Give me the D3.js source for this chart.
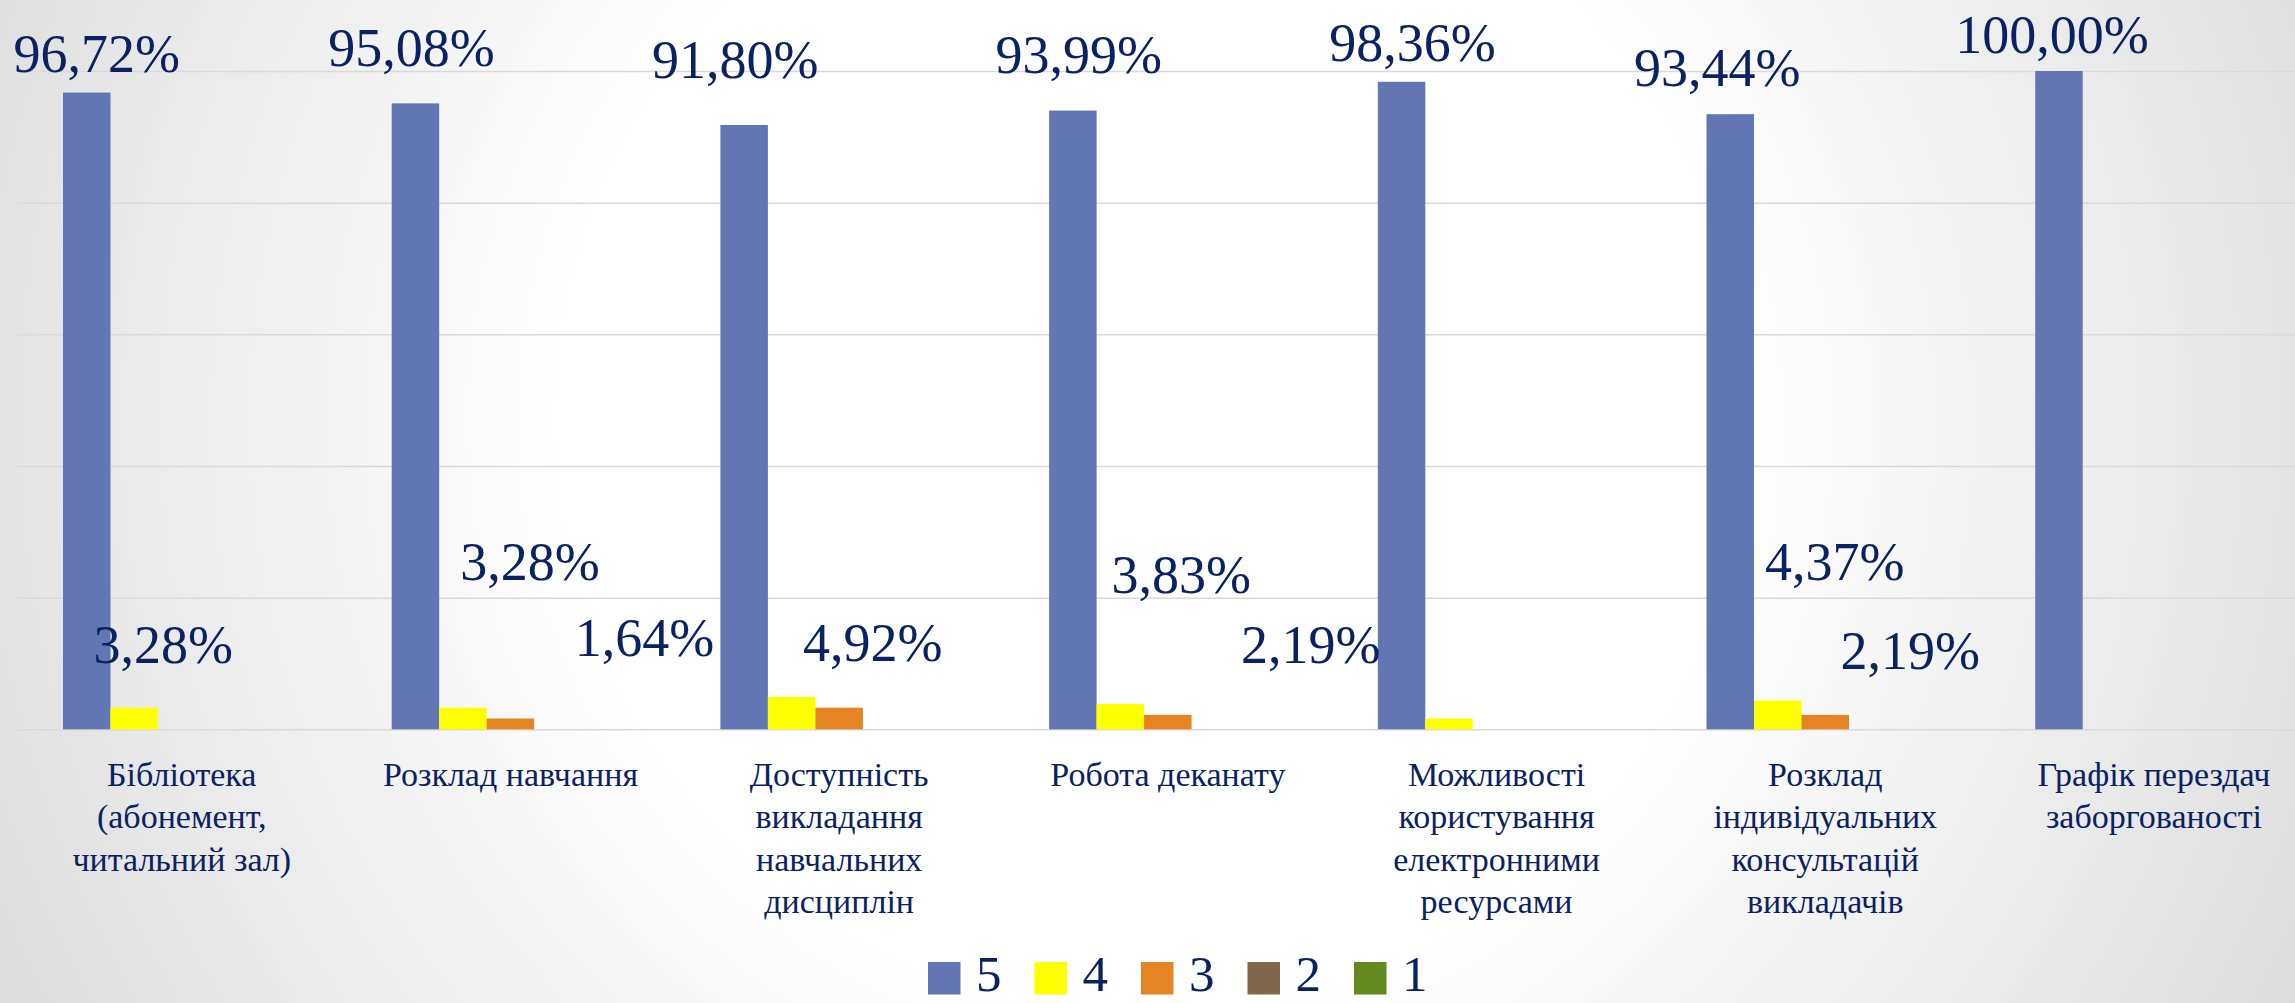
<!DOCTYPE html>
<html>
<head>
  <meta charset="utf-8">
  <script src="https://d3js.org/d3.v7.min.js"></script>
  <style>
    body {
      margin: 0;
      overflow: hidden;
    }
    svg {
      font-family: "Liberation Serif", "DejaVu Serif", serif;
      display: block;
    }
    .grid line {
      stroke: #d9d9d9;
      stroke-width: 1.5;
    }
    .grid path {
      display: none;
    }
    .label {
      fill: #0a2262;
      font-size: 54px;
    }
    .cat text {
      fill: #0a2262;
      font-size: 34px;
    }
  </style>
</head>
<body>
<div id="chart"></div>
<script>
// categories (axis tick labels, already split into lines)
var categories = [
  "Бібліотека (абонемент, читальний зал)",
  "Розклад навчання",
  "Доступність викладання навчальних дисциплін",
  "Робота деканату",
  "Можливості користування електронними ресурсами",
  "Розклад індивідуальних консультацій викладачів",
  "Графік перездач заборгованості"
];
var categoryLines = [
  ["Бібліотека", "(абонемент,", "читальний зал)"],
  ["Розклад навчання"],
  ["Доступність", "викладання", "навчальних", "дисциплін"],
  ["Робота деканату"],
  ["Можливості", "користування", "електронними", "ресурсами"],
  ["Розклад", "індивідуальних", "консультацій", "викладачів"],
  ["Графік перездач", "заборгованості"]
];

// series (rating 5..1), percent of answers
var seriesNames = ["5", "4", "3", "2", "1"];
var s5 = [96.72, 95.08, 91.80, 93.99, 98.36, 93.44, 100.00];
var s4 = [3.28, 3.28, 4.92, 3.83, 1.64, 4.37, 0];
var s3 = [0, 1.64, 3.28, 2.19, 0, 2.19, 0];
var s2 = [0, 0, 0, 0, 0, 0, 0];
var s1 = [0, 0, 0, 0, 0, 0, 0];
var seriesColors = ["#6176b3", "#ffff00", "#e68423", "#84674a", "#648921"];

var yTicks = [0, 20, 40, 60, 80, 100];

// data labels that are visible on the slide, with their hand-dragged offsets
// [series, category, dx from bar centre, distance above bar top]
var labelShift = [
  ["5", 0, 10, 21], ["5", 1, -4, 37], ["5", 2, -9, 47], ["5", 3, 6, 38],
  ["5", 4, 11, 21], ["5", 5, -13, 28], ["5", 6, -7, 18],
  ["4", 0, 29, 45], ["4", 1, 67, 128], ["4", 2, 81, 36], ["4", 3, 61, 111],
  ["4", 5, 57, 121],
  ["3", 1, 134, 63], ["3", 3, 143, 52], ["3", 5, 85, 46]
];

var values = { "5": s5, "4": s4, "3": s3, "2": s2, "1": s1 };

var width = 2295;
var height = 1003;
var left = 17.4;
var step = 328.7;

var svg = d3.select("#chart").append("svg")
  .attr("width", width)
  .attr("height", height);

/* background */
var defs = svg.append("defs");
var bg = defs.append("radialGradient")
  .attr("id", "bg")
  .attr("gradientUnits", "userSpaceOnUse")
  .attr("cx", 1150).attr("cy", 420).attr("r", 1300);
bg.append("stop").attr("offset", "0").attr("stop-color", "#ffffff");
bg.append("stop").attr("offset", "0.45").attr("stop-color", "#ffffff");
bg.append("stop").attr("offset", "1").attr("stop-color", "#dcdcdc");

svg.append("rect")
  .attr("width", width).attr("height", height)
  .attr("fill", "url(#bg)");

/* Scales */
var x0 = d3.scaleBand()
  .domain(categories)
  .range([left, left + step * categories.length])
  .paddingInner(0.2775)
  .paddingOuter(0.13875);

var x1 = d3.scaleBand()
  .domain(seriesNames)
  .range([0, x0.bandwidth()]);

var y = d3.scaleLinear()
  .domain([0, 100])
  .range([729.3, 71]);

var color = d3.scaleOrdinal(seriesNames, seriesColors);

/* gridlines */
svg.append("g")
  .attr("class", "grid")
  .attr("transform", `translate(${left}, 0)`)
  .call(d3.axisLeft(y).tickValues(yTicks).tickSize(-step * categories.length).tickFormat(""));

/* bars */
var groups = svg.append("g").selectAll("g")
  .data(categories).enter()
  .append("g")
  .attr("transform", d => `translate(${x0(d)}, 0)`);

groups.selectAll("rect")
  .data((d, i) => seriesNames.map(s => ({ key: s, value: values[s][i] })))
  .enter()
  .filter(d => d.value > 0)
  .append("rect")
  .attr("x", d => x1(d.key))
  .attr("y", d => y(d.value))
  .attr("width", x1.bandwidth())
  .attr("height", d => y(0) - y(d.value))
  .attr("fill", d => color(d.key));

/* data labels */
var fmt = v => d3.format(".2f")(v).replace(".", ",") + "%";

svg.append("g").selectAll("text")
  .data(labelShift).enter()
  .append("text")
  .attr("class", "label")
  .attr("text-anchor", "middle")
  .attr("x", d => x0(categories[d[1]]) + x1(d[0]) + x1.bandwidth() / 2 + d[2])
  .attr("y", d => y(values[d[0]][d[1]]) - d[3])
  .text(d => fmt(values[d[0]][d[1]]));

/* category axis */
var xAxis = d3.axisBottom(x0).tickSize(0).tickFormat("");
var cat = svg.append("g")
  .attr("class", "cat")
  .attr("transform", `translate(0, ${y(0)})`)
  .call(xAxis)
  .attr("font-family", null)
  .attr("font-size", null);
cat.select(".domain").remove();
cat.selectAll(".tick").each(function(d, i) {
  var t = d3.select(this).select("text")
    .attr("y", 0).attr("dy", null)
    .attr("text-anchor", "middle");
  categoryLines[i].forEach(function(line, j) {
    t.append("tspan")
      .attr("x", 0)
      .attr("y", 56.4 + j * 42.5)
      .text(line);
  });
});

/* legend */
var legend = svg.append("g")
  .attr("transform", "translate(928, 962)")
  .selectAll("g")
  .data(seriesNames).enter()
  .append("g")
  .attr("transform", (d, i) => `translate(${i * 106.5}, 0)`);

legend.append("rect")
  .attr("width", 32.5).attr("height", 32.5)
  .attr("fill", d => color(d));

legend.append("text")
  .attr("class", "label")
  .attr("x", 48)
  .attr("y", 29)
  .style("font-size", "51px")
  .text(d => d);
</script>
</body>
</html>
